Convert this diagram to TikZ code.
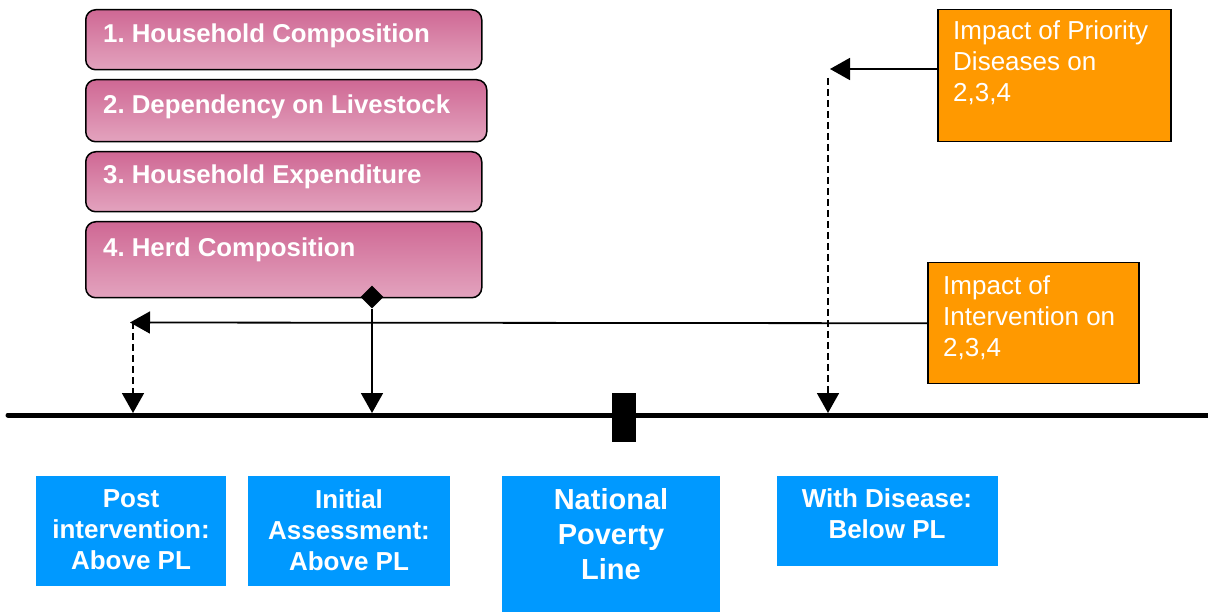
\documentclass[tikz,border=0pt]{standalone}
\usepackage{fontspec}
\setmainfont{Liberation Sans}
\usetikzlibrary{arrows.meta,shapes.geometric}
\definecolor{pinktop}{RGB}{207,104,148}
\definecolor{pinkbot}{RGB}{227,163,190}
\definecolor{orangeF}{RGB}{255,153,0}
\definecolor{blueF}{RGB}{0,153,255}
\frenchspacing
\begin{document}
\begin{tikzpicture}[x=1pt,y=-1pt,
 pinkbox/.style={draw=black, line width=1.5pt, rounded corners=10pt, top color=pinktop, bottom color=pinkbot, inner sep=0pt, anchor=north west},
 pinktext/.style={anchor=base west, inner sep=0pt, text=white, font=\bfseries\fontsize{25.8}{30}\selectfont},
 orangebox/.style={draw=black, line width=1.5pt, fill=orangeF, inner sep=0pt, anchor=north west},
 orangetext/.style={anchor=north west, inner sep=0pt, text=white, align=left, font=\fontsize{26}{31}\selectfont},
 bluebox/.style={fill=blueF, inner sep=0pt, anchor=north west},
 bluetext/.style={inner sep=0pt, text=white, align=center, font=\bfseries\fontsize{26}{31}\selectfont},
 conn/.style={line width=1.8pt, -{Triangle[length=20pt,width=22pt]}},
 dconn/.style={conn, dash pattern=on 7pt off 4pt},
]
\useasboundingbox (0,0) rectangle (1208,612);

% pink boxes
\node[pinkbox, minimum width=396pt, minimum height=60pt] (p1) at (85,9) {};
\node[pinkbox, minimum width=401pt, minimum height=62pt] (p2) at (85,79) {};
\node[pinkbox, minimum width=396pt, minimum height=60pt] (p3) at (85,151) {};
\node[pinkbox, minimum width=396pt, minimum height=76pt] (p4) at (85,221) {};
\node[pinktext] (t1) at (103,43) {1. Household Composition};
\node[pinktext] (t2) at (103,114) {2. Dependency on Livestock};
\node[pinktext] (t3) at (103,184) {3. Household Expenditure};
\node[pinktext] (t4) at (103,257) {4. Herd Composition};

% orange boxes
\node[orangebox, minimum width=233pt, minimum height=132pt] (o1) at (937,9) {};
\node[orangetext] (ot1) at (953,20) {Impact of Priority\\Diseases on\\2,3,4};
\node[orangebox, minimum width=211pt, minimum height=121pt] (o2) at (927,262) {};
\node[orangetext] (ot2) at (943,275) {Impact of\\Intervention on\\2,3,4};

% blue boxes
\node[bluebox, minimum width=190pt, minimum height=110pt] (bA) at (36,476) {};
\node[bluetext] (btA) at (131,530) {Post\\intervention:\\Above PL};
\node[bluebox, minimum width=202pt, minimum height=110pt] (bB) at (248,476) {};
\node[bluetext] (btB) at (349,530) {Initial\\Assessment:\\Above PL};
\node[bluebox, minimum width=218pt, minimum height=136pt] (bC) at (502,476) {};
\node[bluetext, font=\bfseries\fontsize{29}{35}\selectfont] (btC) at (611,534) {National\\Poverty\\Line};
\node[bluebox, minimum width=221pt, minimum height=90pt] (bD) at (777,476) {};
\node[bluetext] (btD) at (887,514) {With Disease:\\Below PL};

% axis
\coordinate (axL) at (8,415);
\coordinate (axR) at (1212,415);
\draw[line width=5pt, line cap=round] (axL) -- (axR);
\node[fill=black, minimum width=24pt, minimum height=49pt, inner sep=0pt] (tick) at (624,417.5) {};

% points on axis
\coordinate (pA) at (133,413);
\coordinate (pB) at (372,413);
\coordinate (pC) at (828,413);

% diamond and initial assessment arrow
\node[diamond, fill=black, minimum width=23pt, minimum height=23pt, inner sep=0pt] (dia) at (372,297) {};
\draw[conn] (dia.south) -- (pB);

% intervention arrow
\coordinate (hA) at (130,322.5);
\coordinate (dA) at (133,322.5);
\draw[conn] (o2.west) -- (hA);
\draw[dconn] (dA) -- (pA);

% disease arrow
\coordinate (hB) at (830,69);
\coordinate (dB) at (828,78);
\draw[conn] (o1.west |- hB) -- (hB);
\draw[dconn] (dB) -- (pC);
\end{tikzpicture}
\end{document}
